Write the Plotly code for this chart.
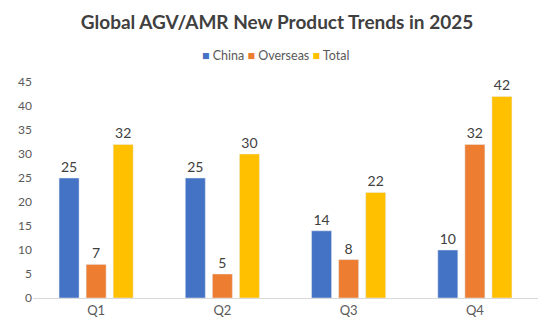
import plotly.graph_objects as go

categories = ["Q1", "Q2", "Q3", "Q4"]
china = [25, 25, 14, 10]
overseas = [7, 5, 8, 32]
total = [32, 30, 22, 42]
y_ticks = [0, 5, 10, 15, 20, 25, 30, 35, 40, 45]

series = [("China", china, "#4472C4"), ("Overseas", overseas, "#ED7D31"), ("Total", total, "#FFC000")]

fig = go.Figure()
for name, vals, color in series:
    fig.add_trace(go.Bar(
        x=categories, y=vals, name=name, marker_color=color,
        text=vals, textposition="outside", cliponaxis=False,
        textfont=dict(size=14, color="#404040", family="Lato"),
        showlegend=False,
    ))

legend_text = "&nbsp;".join(
    f"<span style='color:{c}'>■</span>&nbsp;<span style='color:#595959'>{n}</span>" for n, _, c in series
)

fig.update_layout(
    width=554, height=331,
    margin=dict(l=33, r=16, t=82, b=33),
    paper_bgcolor="white", plot_bgcolor="white",
    barmode="group", bargap=0.357, bargroupgap=0.26,
    font=dict(family="Lato", color="#595959", size=11),
    title=dict(text="<b>Global AGV/AMR New Product Trends in 2025</b>", x=0.5, xanchor="center",
               y=0.932, yanchor="middle", font=dict(size=19, color="#404040", family="Lato")),
    annotations=[dict(text=legend_text, xref="paper", yref="paper", x=0.481, y=1.125,
                      xanchor="center", yanchor="middle", showarrow=False,
                      font=dict(size=12.5, family="Lato"))],
)
fig.update_xaxes(showline=True, linecolor="#D9D9D9", linewidth=1, ticks="", showgrid=False,
                 tickfont=dict(size=13, color="#595959"))
fig.update_yaxes(range=[0, 45], tickvals=y_ticks, showgrid=False, zeroline=False, showline=False,
                 tickfont=dict(size=12, color="#595959"))

fig.write_html("out.html")
